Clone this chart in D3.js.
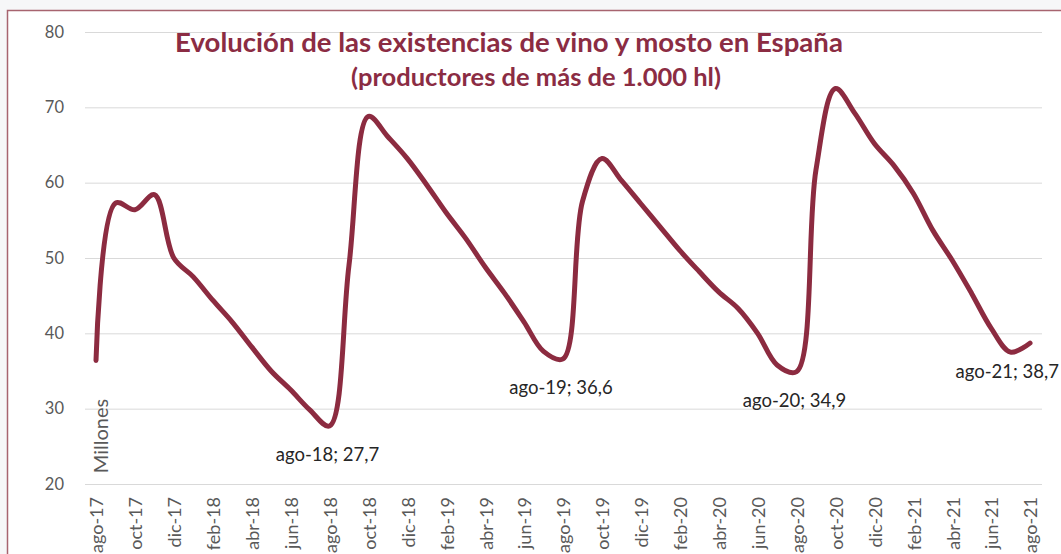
<!DOCTYPE html>
<html>
<head>
<meta charset="utf-8">
<script src="https://cdn.jsdelivr.net/npm/d3@7"></script>
<style>
  html, body { margin: 0; padding: 0; background: #f6f7f8; }
  svg { display: block; }
</style>
</head>
<body>
<svg id="chart" width="1061" height="554"></svg>
<script>
// ---- data ----
const categories = [
  "ago-17","sep-17","oct-17","nov-17","dic-17","ene-18","feb-18","mar-18","abr-18","may-18","jun-18","jul-18",
  "ago-18","sep-18","oct-18","nov-18","dic-18","ene-19","feb-19","mar-19","abr-19","may-19","jun-19","jul-19",
  "ago-19","sep-19","oct-19","nov-19","dic-19","ene-20","feb-20","mar-20","abr-20","may-20","jun-20","jul-20",
  "ago-20","sep-20","oct-20","nov-20","dic-20","ene-21","feb-21","mar-21","abr-21","may-21","jun-21","jul-21",
  "ago-21"
];
const existencias = [
  36.4, 57.3, 56.4, 58.4, 50.0, 47.5, 44.4, 41.5, 38.2, 35.0, 32.5, 29.8,
  27.7, 49.0, 68.8, 66.1, 63.2, 59.7, 56.0, 52.6, 48.8, 45.3, 41.5, 37.6,
  36.6, 57.5, 63.2, 60.3, 57.2, 54.1, 51.0, 48.2, 45.5, 43.3, 40.0, 35.8,
  34.9, 61.7, 72.5, 69.2, 65.2, 62.3, 58.6, 53.7, 49.7, 45.3, 40.7, 37.5,
  38.7
];
const yTicks = [20, 30, 40, 50, 60, 70, 80];
const xTickLabels = categories.filter((d, i) => i % 2 === 0);
const labeledCategories = ["ago-18", "ago-19", "ago-20", "ago-21"];
const titleLines = ["Evolución de las existencias de vino y mosto en España", "(productores de más de 1.000 hl)"];
const yAxisTitle = "Millones";

// ---- drawing ----
const svg = d3.select("#chart");
const W = 1061, H = 554;
const plot = { left: 85, right: 1042, top: 32, bottom: 484 };
const maroon = "#8c2b40";
const font = "Lato, 'Open Sans', sans-serif";

// chart area with border
svg.append("rect")
  .attr("x", 7.5).attr("y", 10.5)
  .attr("width", W + 20).attr("height", H + 20)
  .attr("fill", "#ffffff")
  .attr("stroke", "#a7646f").attr("stroke-width", 1.5);

const x = d3.scalePoint().domain(categories).range([96, 1030]);
const y = d3.scaleLinear().domain([20, 80]).range([plot.bottom, plot.top]);

// y axis with gridlines
const yAxis = svg.append("g")
  .attr("transform", `translate(${plot.left},0)`)
  .call(d3.axisLeft(y).tickValues(yTicks).tickSize(-(plot.right - plot.left)).tickPadding(21).tickFormat(d3.format("d")));
yAxis.select(".domain").remove();
yAxis.selectAll(".tick line").attr("stroke", "#d9d9d9").attr("stroke-width", 1);
yAxis.selectAll(".tick text")
  .attr("fill", "#595959")
  .style("font-family", font)
  .style("font-size", "16.5px");

// x axis labels (rotated)
const xAxis = svg.append("g")
  .attr("transform", `translate(0,${plot.bottom})`)
  .call(d3.axisBottom(x).tickValues(xTickLabels).tickSize(0));
xAxis.select(".domain").remove();
xAxis.selectAll(".tick text")
  .attr("transform", "rotate(-90)")
  .attr("x", -13).attr("y", 0).attr("dy", "0.38em")
  .attr("text-anchor", "end")
  .attr("fill", "#595959")
  .style("font-family", font)
  .style("font-size", "18px");

// y axis title "Millones"
svg.append("text")
  .attr("transform", "translate(108,436) rotate(-90)")
  .attr("text-anchor", "middle")
  .attr("fill", "#595959")
  .style("font-family", font)
  .style("font-size", "20px")
  .text(yAxisTitle);

// line
const data = categories.map((c, i) => ({ c, v: existencias[i] }));
const line = d3.line()
  .x(d => x(d.c))
  .y(d => y(d.v))
  .curve(d3.curveCatmullRom.alpha(0.5));
svg.append("path")
  .datum(data)
  .attr("d", line)
  .attr("fill", "none")
  .attr("stroke", maroon)
  .attr("stroke-width", 5)
  .attr("stroke-linecap", "round")
  .attr("stroke-linejoin", "round");

// data labels
const fmt = v => v.toFixed(1).replace(".", ",");
const labels = svg.append("g");
data.filter(d => labeledCategories.includes(d.c)).forEach(d => {
  const t = labels.append("text")
    .attr("x", x(d.c) - 2)
    .attr("y", y(d.v) + 35)
    .attr("text-anchor", "middle")
    .attr("fill", "#262626")
    .style("font-family", font)
    .style("font-size", "18.5px")
    .text(`${d.c}; ${fmt(d.v)}`);
  const bb = t.node().getBBox();
  if (bb.x + bb.width > W - 2) {
    t.attr("x", +t.attr("x") - (bb.x + bb.width - (W - 2)));
  }
});

// title
function fitText(sel, targetWidth) {
  sel.style("font-size", "100px");
  const w = sel.node().getComputedTextLength();
  sel.style("font-size", (100 * targetWidth / w) + "px");
}
const t1 = svg.append("text")
  .attr("x", 509).attr("y", 52)
  .attr("text-anchor", "middle")
  .attr("fill", "#8b2c43")
  .style("font-family", font)
  .style("font-weight", "bold")
  .text(titleLines[0]);
fitText(t1, 668);
const t2 = svg.append("text")
  .attr("x", 536).attr("y", 86)
  .attr("text-anchor", "middle")
  .attr("fill", "#8b2c43")
  .style("font-family", font)
  .style("font-weight", "bold")
  .text(titleLines[1]);
fitText(t2, 370);
</script>
</body>
</html>
